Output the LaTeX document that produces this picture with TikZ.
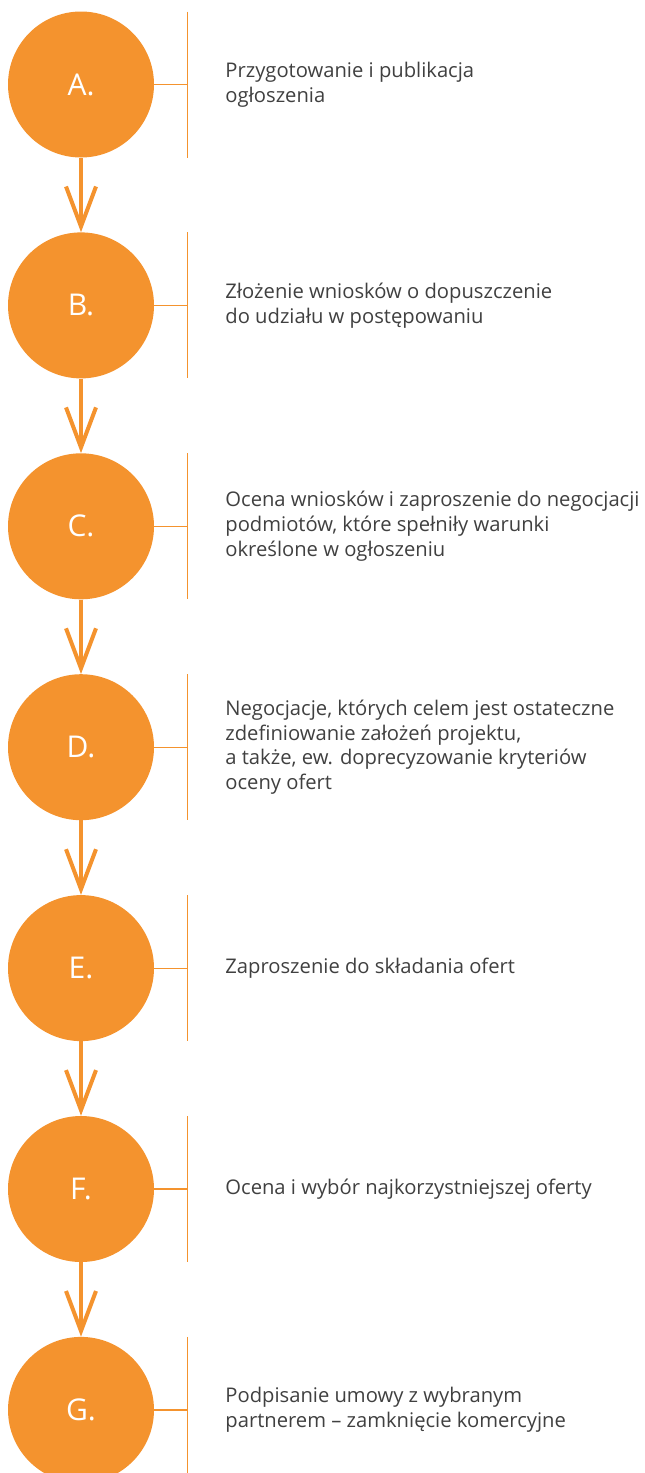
\documentclass[tikz,border=0pt]{standalone}
\usepackage{fontspec}
\setmainfont{Open Sans}
\usetikzlibrary{arrows.meta, positioning, calc}
\definecolor{stepor}{HTML}{F4932E}
\definecolor{textgr}{HTML}{404040}

\begin{document}
\begin{tikzpicture}[
    x=1pt, y=-1pt,
    node distance=74.5pt,
    stepcircle/.style={circle, fill=stepor, minimum size=146pt, inner sep=0pt, text=white, font=\fontsize{30}{34}\selectfont},
    desc/.style={anchor=west, align=left, inner sep=0pt, text=textgr, font=\fontsize{20.2}{24.7}\selectfont},
    arrow/.style={-{Straight Barb[length=40pt, width=30pt]}, line width=4pt, stepor},
    tick/.style={stepor, line width=1.2pt}
]
\useasboundingbox (0,0) rectangle (645,1473);

\node[stepcircle] (a) at (81,84.5) {A.};
\node[stepcircle, below=of a] (b) {B.};
\node[stepcircle, below=of b] (c) {C.};
\node[stepcircle, below=of c] (d) {D.};
\node[stepcircle, below=of d] (e) {E.};
\node[stepcircle, below=of e] (f) {F.};
\node[stepcircle, below=of f] (g) {G.};

\draw[arrow] (a) -- (b);
\draw[arrow] (b) -- (c);
\draw[arrow] (c) -- (d);
\draw[arrow] (d) -- (e);
\draw[arrow] (e) -- (f);
\draw[arrow] (f) -- (g);

% brackets
\foreach \s in {a,b,c,d,e,f,g} {
  \draw[tick] (\s.east) -- ++(33,0) coordinate (t\s);
  \draw[tick] ($(t\s)+(0,-73)$) -- ($(t\s)+(0,73)$);
}

\node[desc, right=71pt of a] (ta-txt) {Przygotowanie i publikacja\\ogłoszenia};
\node[desc, right=71pt of b] (tb-txt) {Złożenie wniosków o dopuszczenie\\do udziału w postępowaniu};
\node[desc, right=71pt of c] (tc-txt) {Ocena wniosków i zaproszenie do negocjacji\\podmiotów, które spełniły warunki\\określone w ogłoszeniu};
\node[desc, right=71pt of d] (td-txt) {Negocjacje, których celem jest ostateczne\\zdefiniowanie założeń projektu,\\a także, ew. doprecyzowanie kryteriów\\oceny ofert};
\node[desc, right=71pt of e] (te-txt) {Zaproszenie do składania ofert};
\node[desc, right=71pt of f] (tf-txt) {Ocena i wybór najkorzystniejszej oferty};
\node[desc, right=71pt of g] (tg-txt) {Podpisanie umowy z wybranym\\partnerem – zamknięcie komercyjne};
\end{tikzpicture}
\end{document}
